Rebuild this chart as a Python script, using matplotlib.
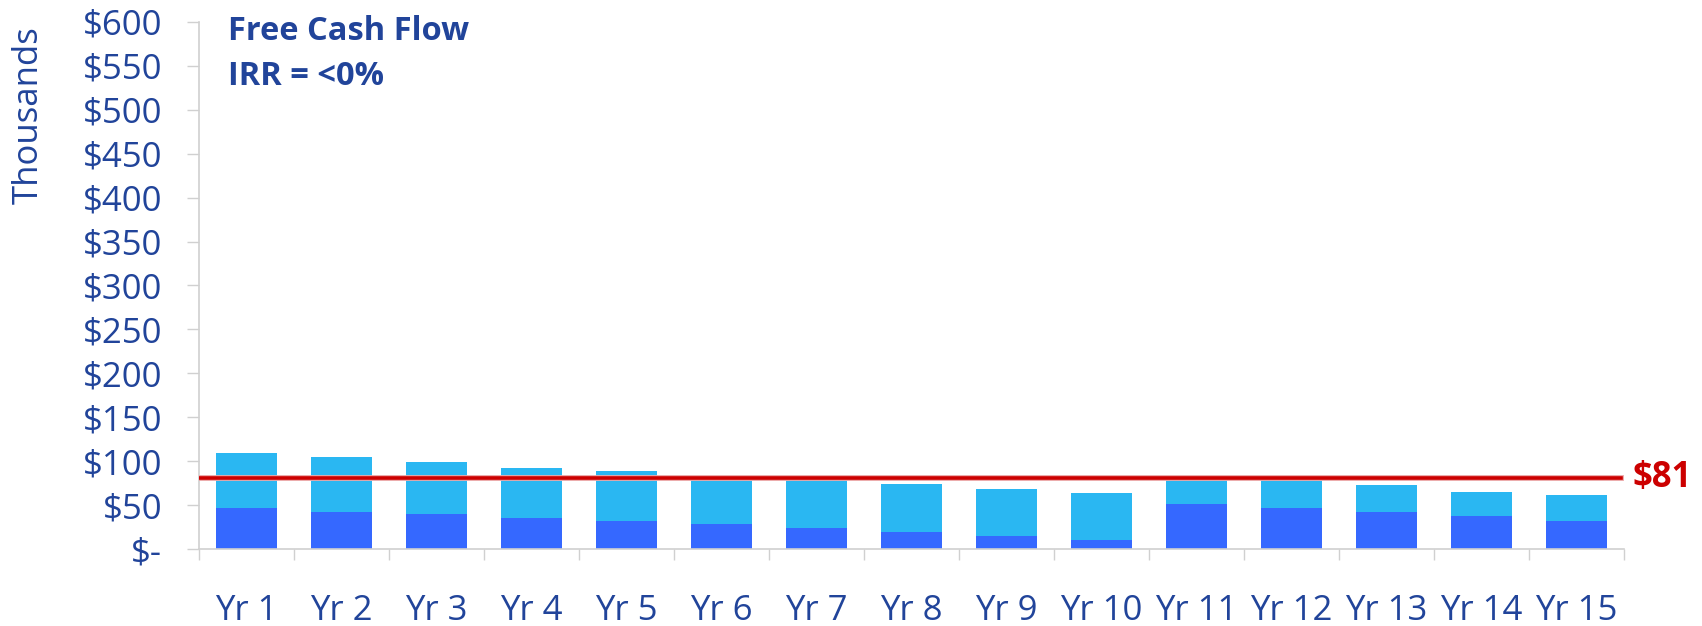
import matplotlib
matplotlib.use("Agg")
import matplotlib.pyplot as plt
import matplotlib.patheffects as pe
import numpy as np

years = ["Yr 1", "Yr 2", "Yr 3", "Yr 4", "Yr 5", "Yr 6", "Yr 7", "Yr 8",
         "Yr 9", "Yr 10", "Yr 11", "Yr 12", "Yr 13", "Yr 14", "Yr 15"]
# lower (dark) part of each bar and the total bar height, in $ thousands
base = [47.0, 42.4, 40.2, 35.6, 32.2, 28.8, 24.2, 19.7, 15.2, 10.6,
        51.5, 47.0, 42.4, 37.9, 32.2]
total = [109.5, 104.9, 99.2, 92.4, 89.0, 83.3, 78.8, 74.0, 68.6, 64.0,
         83.3, 79.9, 73.5, 65.2, 61.7]
upper = [t - b for t, b in zip(total, base)]
avg_line = 81
yticks = [0, 50, 100, 150, 200, 250, 300, 350, 400, 450, 500, 550, 600]
ylabels = ["$-"] + ["$%d" % v for v in yticks[1:]]

navy = "#21449A"
dark_blue = "#3568FF"
light_blue = "#2AB7F2"
red = "#CC0000"
grid_grey = "#D0D0D0"

plt.rcParams['font.family'] = ['Open Sans', 'DejaVu Sans']
plt.rcParams['font.weight'] = 'medium'

fig = plt.figure(figsize=(17.02, 6.26), dpi=100)
ax = fig.add_axes([199 / 1702, 1 - 549.3 / 626, 1425 / 1702, 527.6 / 626])

x = np.arange(len(years))
ax.bar(x, base, width=0.64, color=dark_blue, zorder=2)
ax.bar(x, upper, width=0.64, bottom=base, color=light_blue, zorder=2)

ax.axhline(avg_line, xmin=0, xmax=0.998, color=red, lw=2.6, zorder=3,
           path_effects=[pe.Stroke(linewidth=4.2, foreground="#EBA5A5"), pe.Normal()])
ax.text(1.006, avg_line, "$%d" % avg_line, transform=ax.get_yaxis_transform(),
        color=red, fontsize=25, fontweight="bold", ha="left", va="center")

ax.set_xlim(-0.5, len(years) - 0.5)
ax.set_ylim(0, 600)
ax.set_yticks(yticks)
ax.set_yticklabels(ylabels)
ax.set_xticks(x)
ax.set_xticklabels(years)
ax.set_xticks(np.arange(-0.5, len(years)), minor=True)

ax.tick_params(axis="y", direction="out", length=8.4, width=1, color=grid_grey,
               labelsize=25, labelcolor=navy, pad=18)
ax.tick_params(axis="x", which="major", length=0, labelsize=25, labelcolor=navy, pad=32)
ax.tick_params(axis="x", which="minor", direction="out", length=8, width=1, color=grid_grey)

for side in ["top", "right"]:
    ax.spines[side].set_visible(False)
for side in ["left", "bottom"]:
    ax.spines[side].set_color(grid_grey)
    ax.spines[side].set_linewidth(1.2)

fig.text(29 / 1702, 1 - 115.5 / 626, "Thousands", rotation=90, color=navy,
         fontsize=25, ha="center", va="center")
fig.text(228 / 1702, 1 - 40 / 626, "Free Cash Flow", color=navy, fontsize=23.5,
         fontweight="bold", ha="left", va="baseline")
fig.text(228 / 1702, 1 - 85 / 626, "IRR = <0%", color=navy, fontsize=23.5,
         fontweight="bold", ha="left", va="baseline")

fig.savefig("out.png", dpi=100)
